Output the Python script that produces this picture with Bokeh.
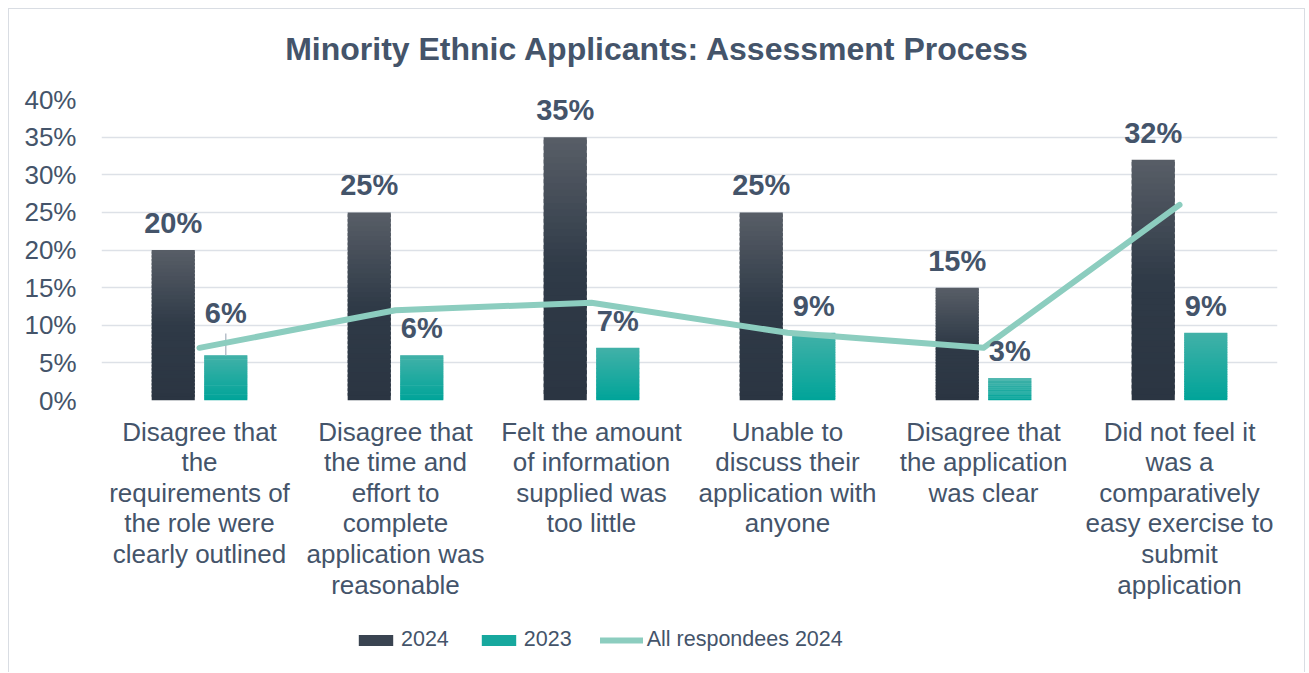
from bokeh.plotting import figure
from bokeh.layouts import column
from bokeh.models import (ColumnDataSource, FactorRange, Range1d, LabelSet, Label, Legend,
                          LegendItem, FixedTicker, PrintfTickFormatter)
from bokeh.core.properties import value
from bokeh.transform import dodge
from bokeh.embed import file_html
from bokeh.resources import INLINE

# ---- data ----
title_text = "Minority Ethnic Applicants: Assessment Process"
categories = [
    "Disagree that\nthe\nrequirements of\nthe role were\nclearly outlined",
    "Disagree that\nthe time and\neffort to\ncomplete\napplication was\nreasonable",
    "Felt the amount\nof information\nsupplied was\ntoo little",
    "Unable to\ndiscuss their\napplication with\nanyone",
    "Disagree that\nthe application\nwas clear",
    "Did not feel it\nwas a\ncomparatively\neasy exercise to\nsubmit\napplication",
]
values_2024 = [20, 25, 35, 25, 15, 32]
values_2023 = [6, 6, 7, 9, 3, 9]
all_respondees_2024 = [7, 12, 13, 9, 7, 26]
y_ticks = [0, 5, 10, 15, 20, 25, 30, 35, 40]
series_names = ["2024", "2023", "All respondees 2024"]

# ---- styles ----
TEXT = "#44546a"
FONT = "Liberation Sans"
GRID = "#dde1e7"
BORDER = "1.5px solid #d9dde3"
C_LINE = "#8ccdbf"
BAR_W = 0.22
OFF = 0.134
N_SLICES = 40
label_raise_2023 = [32, 17, 17, 17, 17, 17]
W = 1295
TITLE_X, TITLE_Y = 0.473, 0.473


def hex2rgb(h):
    h = h.lstrip("#")
    return tuple(int(h[i:i + 2], 16) for i in (0, 2, 4))


def rgb2hex(c):
    return "#%02x%02x%02x" % tuple(int(round(x)) for x in c)


def lerp(a, b, t):
    return tuple(a[i] + (b[i] - a[i]) * t for i in range(3))


def grad(top, mid, bot, t_from_top, split):
    top, mid, bot = hex2rgb(top), hex2rgb(mid), hex2rgb(bot)
    if t_from_top < split:
        return rgb2hex(lerp(top, mid, t_from_top / split))
    return rgb2hex(lerp(mid, bot, (t_from_top - split) / (1 - split)))


def slices(vals, top, mid, bot, split):
    d = dict(cat=[], b=[], t=[], c=[])
    for cat, v in zip(categories, vals):
        for k in range(N_SLICES):
            d["cat"].append(cat)
            d["b"].append(v * k / N_SLICES)
            d["t"].append(min(v, v * (k + 1.6) / N_SLICES))
            d["c"].append(grad(top, mid, bot, 1 - (k + 0.5) / N_SLICES, split))
    return ColumnDataSource(d)


def strip(height):
    f = figure(width=W, height=height, x_range=(0, 1), y_range=(0, 1),
               output_backend="svg", toolbar_location=None, min_border=0,
               x_axis_location=None, y_axis_location=None)
    f.outline_line_color = None
    f.grid.visible = False
    return f


# ---- title strip ----
pt = strip(75)
pt.add_layout(Label(x=TITLE_X, y=TITLE_Y, text=title_text, text_align="center",
                    text_baseline="middle", text_font=FONT, text_font_size="32px",
                    text_font_style="bold", text_color=TEXT))

# ---- main chart ----
p = figure(
    x_range=FactorRange(factors=categories, range_padding=0),
    y_range=Range1d(0, 40),
    width=W, height=535,
    output_backend="svg", toolbar_location=None,
    min_border_left=92, min_border_right=27, min_border_top=15, min_border_bottom=219,
)
p.outline_line_color = None
p.background_fill_color = "white"

p.xgrid.grid_line_color = None
p.ygrid.grid_line_color = GRID
p.ygrid.grid_line_width = 1.5
p.yaxis.ticker = FixedTicker(ticks=y_ticks)
p.yaxis.formatter = PrintfTickFormatter(format="%d%%")

for ax in (p.xaxis[0], p.yaxis[0]):
    ax.axis_line_color = None
    ax.major_tick_line_color = None
    ax.minor_tick_line_color = None
    ax.major_tick_out = 0
    ax.major_tick_in = 0
    ax.major_label_text_font = FONT
    ax.major_label_text_font_size = "26px"
    ax.major_label_text_color = TEXT
p.yaxis.major_label_standoff = 25
p.xaxis.major_label_standoff = 16
p.xaxis.major_label_text_line_height = 1.02

# bars (vertical gradient approximated by slices)
src24 = slices(values_2024, "#585e67", "#2f3a47", "#2b3542", 0.5)
src23 = slices(values_2023, "#42b1a8", "#1aa99f", "#00a499", 0.6)
p.vbar(x=dodge("cat", -OFF, range=p.x_range), width=BAR_W, bottom="b", top="t",
       source=src24, fill_color="c", line_color=None)
p.vbar(x=dodge("cat", OFF, range=p.x_range), width=BAR_W, bottom="b", top="t",
       source=src23, fill_color="c", line_color=None)

# leader line on first 2023 label
lead = ColumnDataSource(dict(cat=[categories[0]], y0=[values_2023[0]],
                             y1=[values_2023[0] + 2.9]))
p.segment(x0=dodge("cat", OFF, range=p.x_range), x1=dodge("cat", OFF, range=p.x_range),
          y0="y0", y1="y1", source=lead, line_color="#b8c0cb", line_width=1.5)

# line series
p.line(x=categories, y=all_respondees_2024, line_color=C_LINE, line_width=6,
       line_cap="round", line_join="round")

# data labels
lab24 = ColumnDataSource(dict(cat=categories, y=values_2024,
                              txt=["%d%%" % v for v in values_2024],
                              off=[17] * len(values_2024)))
lab23 = ColumnDataSource(dict(cat=categories, y=values_2023,
                              txt=["%d%%" % v for v in values_2023],
                              off=label_raise_2023))
for src, o in ((lab24, -OFF), (lab23, OFF)):
    p.add_layout(LabelSet(x=dodge("cat", o, range=p.x_range), y="y", text="txt", source=src,
                          y_offset="off", text_align="center", text_baseline="alphabetic",
                          text_font=value(FONT), text_font_size=value("29px"),
                          text_font_style=value("bold"), text_color=value(TEXT)))

# ---- legend strip (separate figure so it is not clipped) ----
pl = strip(53)
# zero-size proxy glyphs: only their legend swatches are visible
g24 = pl.vbar(x=[0.5], top=[0], bottom=[0], width=0, fill_color="#3a4451", line_color=None)
g23 = pl.vbar(x=[0.5], top=[0], bottom=[0], width=0, fill_color="#17a89e", line_color=None)
gl = pl.line(x=[0.5], y=[0.5], line_color=C_LINE, line_width=6, line_cap="round")
legend = Legend(items=[
    LegendItem(label=series_names[0], renderers=[g24]),
    LegendItem(label=series_names[1], renderers=[g23]),
    LegendItem(label=series_names[2], renderers=[gl]),
], orientation="horizontal", location=(253, 20), padding=0, margin=0,
    glyph_width=43, glyph_height=14, label_standoff=4, spacing=28,
    label_text_font=FONT, label_text_font_size="21.5px", label_text_color=TEXT,
    background_fill_alpha=0, border_line_color=None)
pl.add_layout(legend)

layout = column(pt, p, pl, spacing=0)
layout.margin = (8, 0, 0, 8)
layout.styles = {"border-left": BORDER, "border-top": BORDER, "border-right": BORDER}

open("out.html", "w").write(file_html(layout, INLINE))
